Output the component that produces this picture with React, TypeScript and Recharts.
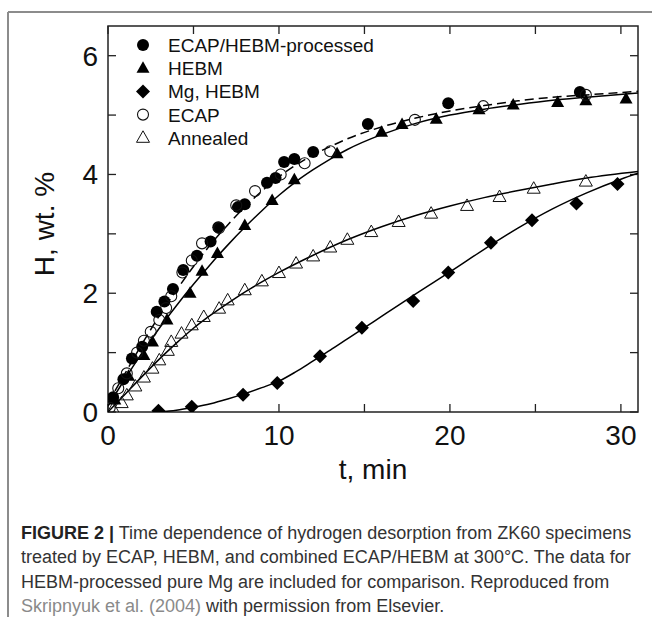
import React from 'react';
import { ComposedChart, Line, Scatter, XAxis, YAxis, ReferenceLine, ReferenceArea } from 'recharts';

const FONT = '"Liberation Sans", Arial, Helvetica, sans-serif';

// measured points, t in min, H in wt.%
const comboT = [0.3, 0.9, 1.4, 2.0, 2.85, 3.3, 3.8, 4.4, 5.2, 6.0, 6.45, 7.6, 8.0, 9.3, 9.8, 10.3, 10.9, 12.0, 15.2, 19.9, 27.6];
const comboH = [0.25, 0.55, 0.9, 1.1, 1.69, 1.86, 2.07, 2.39, 2.63, 2.87, 3.11, 3.45, 3.5, 3.86, 3.94, 4.21, 4.26, 4.38, 4.85, 5.2, 5.39];

const hebmT = [0.4, 1.2, 2.1, 2.6, 3.45, 4.8, 5.5, 6.4, 8.0, 9.6, 10.9, 13.4, 16.0, 17.2, 19.2, 21.7, 23.7, 26.3, 27.95, 30.3];
const hebmH = [0.2, 0.6, 0.95, 1.18, 1.55, 2.0, 2.37, 2.67, 3.14, 3.56, 3.91, 4.35, 4.71, 4.84, 4.93, 5.09, 5.17, 5.21, 5.24, 5.27];

const mgT = [2.95, 4.9, 7.9, 9.9, 12.4, 14.85, 17.85, 19.9, 22.4, 24.8, 27.4, 29.8];
const mgH = [0.02, 0.09, 0.29, 0.49, 0.94, 1.42, 1.87, 2.35, 2.85, 3.23, 3.51, 3.84];

const ecapT = [0.1, 0.6, 1.1, 1.7, 2.1, 2.5, 3.0, 3.4, 3.7, 4.35, 4.9, 5.5, 6.5, 7.5, 8.6, 10.1, 11.5, 13.0, 17.95, 21.95, 27.95];
const ecapH = [0.07, 0.4, 0.65, 1.0, 1.2, 1.35, 1.55, 1.75, 1.95, 2.35, 2.55, 2.84, 3.1, 3.48, 3.72, 4.0, 4.19, 4.39, 4.92, 5.15, 5.34];

const annT = [0.3, 0.8, 1.1, 1.6, 2.1, 2.6, 3.0, 3.5, 3.7, 4.3, 4.9, 5.6, 6.5, 7.0, 8.0, 9.0, 10.0, 11.0, 12.0, 13.0, 14.0, 15.4, 17.0, 18.9, 21.0, 22.9, 24.9, 27.95];
const annH = [0.05, 0.15, 0.28, 0.43, 0.58, 0.73, 0.87, 1.03, 1.18, 1.32, 1.46, 1.6, 1.74, 1.88, 2.05, 2.2, 2.34, 2.5, 2.62, 2.77, 2.9, 3.03, 3.2, 3.34, 3.47, 3.62, 3.76, 3.88];

// fitted curves
const fitComboT = [0, 1, 2, 3, 4, 5, 6, 7, 8, 9, 10, 11, 12, 13, 14, 16, 18, 20, 22, 24, 26, 28, 31];
const fitComboH = [0.15, 0.65, 1.15, 1.62, 2.05, 2.45, 2.82, 3.15, 3.45, 3.72, 3.96, 4.16, 4.33, 4.47, 4.6, 4.8, 4.95, 5.07, 5.16, 5.24, 5.3, 5.34, 5.4];

const fitHebmT = [0, 1, 2, 3, 4, 5, 6, 7, 8, 9, 10, 11, 12, 13, 14, 16, 18, 20, 22, 24, 26, 28, 31];
const fitHebmH = [0.1, 0.56, 1.0, 1.41, 1.79, 2.15, 2.49, 2.81, 3.11, 3.39, 3.65, 3.88, 4.08, 4.26, 4.42, 4.67, 4.86, 5.0, 5.1, 5.18, 5.25, 5.3, 5.37];

const fitAnnT = [0, 1, 2, 3, 4, 5, 6, 7, 8, 9, 10, 12, 14, 16, 18, 20, 22, 24, 26, 28, 31];
const fitAnnH = [0, 0.3, 0.6, 0.89, 1.16, 1.41, 1.63, 1.83, 2.02, 2.19, 2.35, 2.64, 2.9, 3.12, 3.31, 3.47, 3.61, 3.73, 3.84, 3.94, 4.05];

const fitMgT = [3, 4, 5, 6, 7, 8, 9, 10, 11, 12, 13, 14, 15, 16, 17, 18, 20, 22, 24, 26, 28, 30, 31];
const fitMgH = [0, 0.03, 0.08, 0.14, 0.22, 0.31, 0.41, 0.52, 0.68, 0.86, 1.04, 1.23, 1.42, 1.61, 1.8, 1.99, 2.36, 2.74, 3.1, 3.42, 3.69, 3.92, 4.02];

const xTicks = [0, 5, 10, 15, 20, 25, 30];
const yTicks = [0, 1, 2, 3, 4, 5, 6];
const xLabels = [0, 10, 20, 30];
const yLabels = [0, 2, 4, 6];

const legendItems = ['ECAP/HEBM-processed', 'HEBM', 'Mg, HEBM', 'ECAP', 'Annealed'];

const X_MAX = 31;
const Y_MAX = 6.5;

const zip = (t: number[], h: number[]) => t.map((v, i) => ({ t: v, h: h[i] }));

const Dot = ({ cx, cy }: any) => <circle cx={cx} cy={cy} r={6} fill="#000" />;
const Ring = ({ cx, cy }: any) => <circle cx={cx} cy={cy} r={5.5} fill="none" stroke="#111" strokeWidth={1.1} />;
const Tri = ({ cx, cy }: any) => (
  <polygon points={`${cx},${cy - 7} ${cx - 6.5},${cy + 4.5} ${cx + 6.5},${cy + 4.5}`} fill="#000" />
);
const OpenTri = ({ cx, cy }: any) => (
  <polygon points={`${cx},${cy - 7} ${cx - 6.5},${cy + 4.5} ${cx + 6.5},${cy + 4.5}`} fill="none" stroke="#111" strokeWidth={1} />
);
const Diamond = ({ cx, cy }: any) => (
  <polygon points={`${cx},${cy - 7} ${cx + 7},${cy} ${cx},${cy + 7} ${cx - 7},${cy}`} fill="#000" />
);

const legendShapes = [Dot, Tri, Diamond, Ring, OpenTri];

const XTick = ({ x, y, payload }: any) => (
  <text x={x} y={y + 33} textAnchor="middle" fontSize={28} fontFamily={FONT} fill="#111">
    {payload.value}
  </text>
);
const YTick = ({ x, y, payload }: any) => (
  <text x={x - 10} y={y + 10} textAnchor="end" fontSize={28} fontFamily={FONT} fill="#111">
    {payload.value}
  </text>
);

export default function App() {
  const tickX = 8 / 17.1;
  const tickY = 8 / 59.4;
  return (
    <div style={{ position: 'absolute', left: 0, top: 0, width: 652, height: 622, background: '#fff', fontFamily: FONT }}>
      <div style={{ position: 'absolute', left: 0, top: 0 }}>
        <ComposedChart width={652} height={500} margin={{ top: 26, right: 14, bottom: 28, left: 48 }}>
          <XAxis
            dataKey="t"
            type="number"
            domain={[0, X_MAX]}
            ticks={xLabels}
            tick={<XTick />}
            tickLine={false}
            axisLine={false}
            tickSize={0}
            tickMargin={0}
            height={60}
            allowDataOverflow
          />
          <YAxis
            dataKey="h"
            type="number"
            domain={[0, Y_MAX]}
            ticks={yLabels}
            tick={<YTick />}
            tickLine={false}
            axisLine={false}
            tickSize={0}
            tickMargin={0}
            width={60}
            allowDataOverflow
          />
          {xTicks.map((t) => (
            <ReferenceLine key={'b' + t} segment={[{ x: t, y: 0 }, { x: t, y: tickY }]} stroke="#222" strokeWidth={1.3} />
          ))}
          {xTicks.map((t) => (
            <ReferenceLine key={'t' + t} segment={[{ x: t, y: Y_MAX }, { x: t, y: Y_MAX - tickY }]} stroke="#222" strokeWidth={1.3} />
          ))}
          {yTicks.map((v) => (
            <ReferenceLine key={'l' + v} segment={[{ x: 0, y: v }, { x: tickX, y: v }]} stroke="#222" strokeWidth={1.3} />
          ))}
          {yTicks.map((v) => (
            <ReferenceLine key={'r' + v} segment={[{ x: X_MAX, y: v }, { x: X_MAX - tickX, y: v }]} stroke="#222" strokeWidth={1.3} />
          ))}
          <ReferenceArea x1={0} x2={X_MAX} y1={0} y2={Y_MAX} fill="none" fillOpacity={0} stroke="#222" strokeWidth={1.5} />

          <Line data={zip(fitComboT, fitComboH)} dataKey="h" type="monotone" stroke="#000" strokeWidth={1.5} strokeDasharray="9 5" dot={false} isAnimationActive={false} />
          <Line data={zip(fitHebmT, fitHebmH)} dataKey="h" type="monotone" stroke="#000" strokeWidth={1.5} dot={false} isAnimationActive={false} />
          <Line data={zip(fitAnnT, fitAnnH)} dataKey="h" type="monotone" stroke="#000" strokeWidth={1.5} dot={false} isAnimationActive={false} />
          <Line data={zip(fitMgT, fitMgH)} dataKey="h" type="monotone" stroke="#000" strokeWidth={1.5} dot={false} isAnimationActive={false} />

          <Scatter data={zip(annT, annH)} dataKey="h" shape={<OpenTri />} isAnimationActive={false} />
          <Scatter data={zip(mgT, mgH)} dataKey="h" shape={<Diamond />} isAnimationActive={false} />
          <Scatter data={zip(hebmT, hebmH)} dataKey="h" shape={<Tri />} isAnimationActive={false} />
          <Scatter data={zip(comboT, comboH)} dataKey="h" shape={<Dot />} isAnimationActive={false} />
          <Scatter data={zip(ecapT, ecapH)} dataKey="h" shape={<Ring />} isAnimationActive={false} />
        </ComposedChart>
      </div>

      <svg width={652} height={622} style={{ position: 'absolute', left: 0, top: 0, pointerEvents: 'none' }}>
        <line x1={8} y1={12} x2={652} y2={12} stroke="#8c8c8c" strokeWidth={2} />
        <line x1={8} y1={12} x2={8} y2={617} stroke="#8c8c8c" strokeWidth={2} />
        <text x={54} y={224} transform="rotate(-90 54 224)" textAnchor="middle" fontSize={28} fontFamily={FONT} fill="#111">
          H, wt. %
        </text>
        <text x={373} y={479} textAnchor="middle" fontSize={28} fontFamily={FONT} fill="#111">
          t, min
        </text>
        {legendItems.map((name, i) => {
          const Shape = legendShapes[i];
          const y = 45 + i * 23.2;
          return (
            <g key={name}>
              <Shape cx={143} cy={y} />
              <text x={168} y={y + 7} fontSize={19} fontFamily={FONT} fill="#111">
                {name}
              </text>
            </g>
          );
        })}
      </svg>

      <div
        style={{
          position: 'absolute',
          left: 21,
          top: 521,
          fontSize: 18,
          lineHeight: '24.3px',
          color: '#333',
          whiteSpace: 'nowrap',
          fontFamily: FONT,
        }}
      >
        <span style={{ fontWeight: 'bold', color: '#222' }}>FIGURE 2 |</span> Time dependence of hydrogen desorption from ZK60 specimens
        <br />
        treated by ECAP, HEBM, and combined ECAP/HEBM at 300°C. The data for
        <br />
        HEBM-processed pure Mg are included for comparison. Reproduced from
        <br />
        <span style={{ color: '#8a8a8a' }}>Skripnyuk et al. (2004)</span> with permission from Elsevier.
      </div>
    </div>
  );
}
